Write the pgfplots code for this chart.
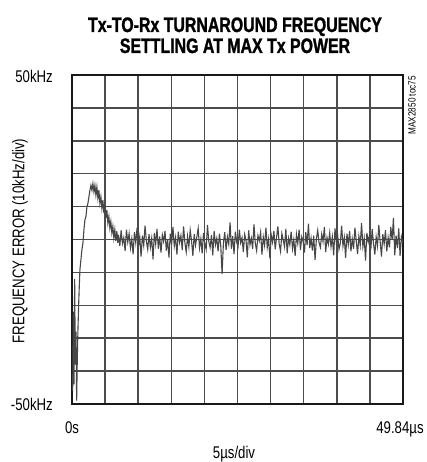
\documentclass[border=0pt]{standalone}
\usepackage{pgfplots}
\pgfplotsset{compat=1.18}
\usepackage{fontspec}
\setmainfont{Liberation Sans}[FakeStretch=0.78]
\newfontfamily\titlefont{Liberation Sans Bold}[FakeStretch=0.76, FakeBold=1.2]

\begin{document}
\begin{tikzpicture}
% picture frame: axis box is 331x329 bp, with room for the texts round it
\useasboundingbox (-72bp,-58bp) rectangle (355bp,404bp);
\begin{axis}[
    at={(0,0)}, anchor=south west,
    width=331bp, height=329bp, scale only axis,
    xmin=0, xmax=49.84,
    ymin=-50, ymax=50,
    xtick={0,4.984,9.968,14.952,19.936,24.92,29.904,34.888,39.872,44.856,49.84},
    ytick={-50,-40,...,50},
    xticklabels={}, yticklabels={},
    major tick length=0pt,
    grid=major,
    grid style={line width=1.5bp, black!70},
    axis line style={line width=2.4bp, black!90},
]
% frequency error (kHz) against time (us)
\addplot[line width=1.1bp, black!72] coordinates {
(0.10,-46) (0.20,-22) (0.30,-44) (0.40,-12) (0.50,-38) (0.60,-28) (0.70,-49) (0.80,-36) (0.90,-27) (1.00,-20)
(1.10,-14) (1.20,-9) (1.35,-6) (1.50,-3) (1.65,-1) (1.80,3) (1.95,6) (2.10,7) (2.25,10) (2.40,11)
(2.55,13) (2.70,15) (2.85,16.5) (3.00,15) (3.15,17) (3.30,14.5) (3.45,16.5) (3.60,13.5) (3.75,16) (3.90,12.5)
(4.05,15) (4.20,11) (4.35,13) (4.50,9.5) (4.65,12) (4.80,8) (4.95,10.5) (5.10,6.5) (5.25,9) (5.40,5)
(5.55,7) (5.70,3.5) (5.85,5.5) (6.00,2) (6.15,4) (6.30,0.5) (6.45,3) (6.60,-0.5) (6.75,2.5) (6.90,-1)
(7.0,1.5) (7.2,-2.0) (7.4,2.8) (7.6,-1.2) (7.8,0.5) (8.0,-3.5) (8.2,3.0) (8.4,-0.8) (8.6,1.8) (8.8,-2.6)
(9.0,0.2) (9.2,-4.5) (9.4,2.2) (9.6,-1.0) (9.8,3.6) (10.0,-2.2) (10.2,0.8) (10.4,-5.2) (10.6,1.2) (10.8,-1.8)
(11.0,4.2) (11.2,-0.5) (11.4,-3.0) (11.6,1.6) (11.8,-2.4) (12.0,0.4) (12.2,-6.0) (12.4,2.0) (12.6,-1.4) (12.8,3.2)
(13.0,-2.8) (13.2,0.9) (13.4,-4.0) (13.6,1.4) (13.8,-0.6) (14.0,2.6) (14.2,-3.4) (14.4,0.0) (14.6,-5.5) (14.8,1.8)
(15.0,-1.6) (15.2,3.8) (15.4,-2.0) (15.6,0.6) (15.8,-4.6) (16.0,2.4) (16.2,-0.9) (16.4,1.2) (16.6,-3.2) (16.8,4.0)
(17.0,-1.0) (17.2,-3.8) (17.4,1.0) (17.6,-2.2) (17.8,2.8) (18.0,-0.4) (18.2,-5.0) (18.4,1.6) (18.6,-1.8) (18.8,0.8)
(19.0,3.4) (19.2,-2.6) (19.4,0.2) (19.6,-4.2) (19.8,2.0) (20.0,-1.2) (20.2,-3.0) (20.4,4.4) (20.6,-0.6) (20.8,-2.4)
(21.0,1.4) (21.2,-4.8) (21.4,2.6) (21.6,-1.6) (21.8,0.4) (22.0,-3.6) (22.2,1.8) (22.4,-2.0) (22.6,-10.5) (22.8,-1.0)
(23.0,2.2) (23.2,-3.2) (23.4,0.8) (23.6,-1.4) (23.8,5.2) (24.0,-2.8) (24.2,1.0) (24.4,-4.4) (24.6,2.4) (24.8,-0.8)
(25.0,-2.2) (25.2,3.0) (25.4,-1.0) (25.6,0.6) (25.8,-3.8) (26.0,1.6) (26.2,-0.2) (26.4,-5.4) (26.6,2.8) (26.8,-1.6)
(27.0,0.4) (27.2,-2.8) (27.4,4.6) (27.6,-1.2) (27.8,-3.4) (28.0,1.2) (28.2,-0.4) (28.4,2.2) (28.6,-4.6) (28.8,0.8)
(29.0,-1.8) (29.2,3.6) (29.4,-2.4) (29.6,0.2) (29.8,-5.8) (30.0,1.4) (30.2,-0.8) (30.4,2.6) (30.6,-3.0) (30.8,0.6)
(31.0,4.0) (31.2,-1.4) (31.4,-3.6) (31.6,1.8) (31.8,-0.2) (32.0,-2.2) (32.2,3.2) (32.4,-4.2) (32.6,0.4) (32.8,-1.6)
(33.0,2.4) (33.2,-2.8) (33.4,0.0) (33.6,-5.0) (33.8,1.6) (34.0,-1.2) (34.2,3.0) (34.4,-3.2) (34.6,0.8) (34.8,-0.6)
(35.0,-4.0) (35.2,2.2) (35.4,-1.8) (35.6,4.8) (35.8,-2.6) (36.0,0.4) (36.2,-3.4) (36.4,1.2) (36.6,-6.2) (36.8,0.2)
(37.0,2.8) (37.2,-1.0) (37.4,-2.4) (37.6,1.6) (37.8,-0.6) (38.0,3.8) (38.2,-3.8) (38.4,0.6) (38.6,-1.4) (38.8,2.0)
(39.0,-2.2) (39.2,0.8) (39.4,-4.8) (39.6,3.4) (39.8,-0.8) (40.0,1.4) (40.2,-3.0) (40.4,-1.2) (40.6,4.2) (40.8,-2.0)
(41.0,0.6) (41.2,-5.6) (41.4,1.8) (41.6,-1.6) (41.8,2.6) (42.0,-3.6) (42.2,0.2) (42.4,-2.8) (42.6,3.6) (42.8,-0.4)
(43.0,-4.4) (43.2,1.0) (43.4,-1.8) (43.6,5.0) (43.8,-2.2) (44.0,0.4) (44.2,-6.4) (44.4,2.0) (44.6,-0.8) (44.8,1.4)
(45.0,-3.0) (45.2,3.2) (45.4,-1.2) (45.6,-4.6) (45.8,0.8) (46.0,-2.0) (46.2,4.4) (46.4,-0.6) (46.6,-5.2) (46.8,1.6)
(47.0,-1.4) (47.2,2.8) (47.4,-3.6) (47.6,0.6) (47.8,-2.4) (48.0,3.8) (48.2,-0.2) (48.4,6.6) (48.6,-4.8) (48.8,1.2)
(49.0,-2.6) (49.2,3.4) (49.4,-5.0) (49.6,0.8) (49.8,-1.0)
};
\end{axis}

% title
\node[font=\fontsize{21}{24}\selectfont\titlefont, anchor=base] at (163bp,372bp) {Tx-TO-Rx TURNAROUND FREQUENCY};
\node[font=\fontsize{21}{24}\selectfont\titlefont, anchor=base] at (163bp,351bp) {SETTLING AT MAX Tx POWER};

% axis end labels
\node[font=\fontsize{17}{20}\selectfont, anchor=base east, inner sep=0pt] at (-19bp,321bp) {50kHz};
\node[font=\fontsize{17}{20}\selectfont, anchor=base east, inner sep=0pt] at (-19bp,-6bp) {-50kHz};
\node[font=\fontsize{17}{20}\selectfont, anchor=base, inner sep=0pt] at (0bp,-29bp) {0s};
\node[font=\fontsize{17}{20}\selectfont, anchor=base, inner sep=0pt] at (328bp,-29bp) {49.84µs};
\node[font=\fontsize{17}{20}\selectfont, anchor=base, inner sep=0pt] at (162bp,-54bp) {5µs/div};
\node[font=\fontsize{17}{20}\selectfont, rotate=90] at (-52bp,163bp) {FREQUENCY ERROR (10kHz/div)};
\node[font=\fontsize{10.5}{12}\selectfont, rotate=90, anchor=north east, inner sep=1bp] at (335bp,329bp) {MAX2850 toc75};
\end{tikzpicture}
\end{document}
